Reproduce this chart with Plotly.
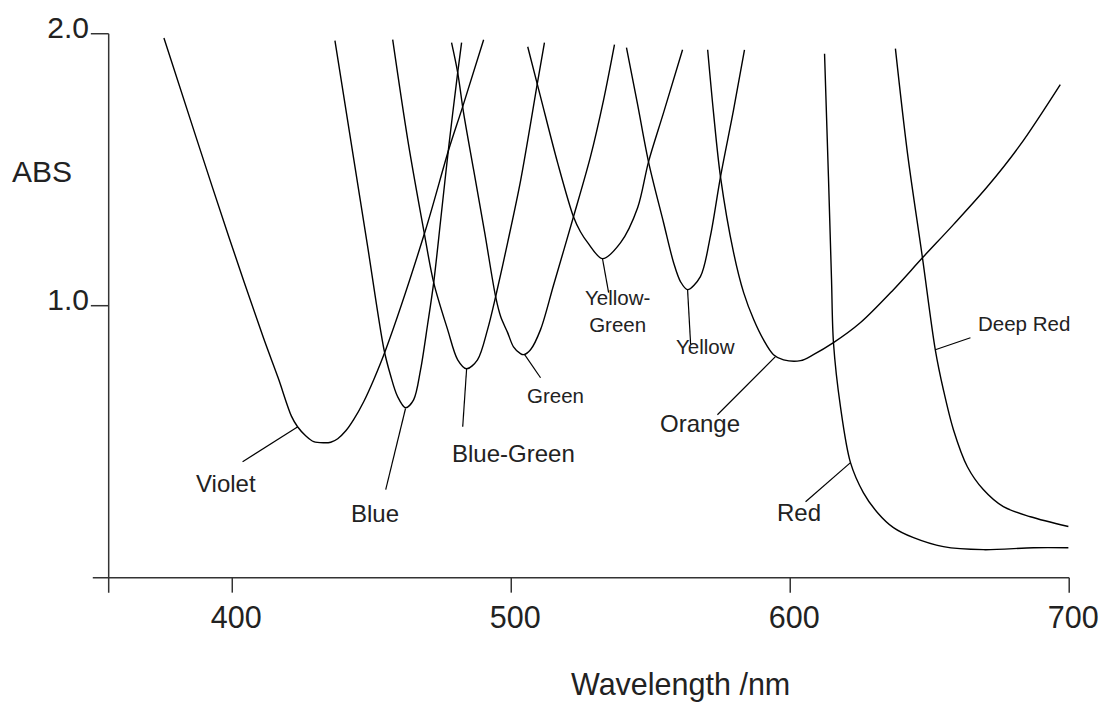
import plotly.graph_objects as go

# ---------------- data ----------------
X_TICKS = [400, 500, 600, 700]
X_TICK_TEXT = ["400", "500", "600", "700"]
Y_TICKS = [1.0, 2.0]
Y_TICK_TEXT = ["1.0", "2.0"]

VIOLET_NM = [375.5, 387.1, 398.9, 411.2, 416.5, 421.2, 423.4, 426.3, 429.2, 432.8, 435.3, 437.8, 440.7, 443.5, 447.1, 450.7, 455.0, 469.3, 477.6, 482.6, 490.1]
VIOLET_ABS = [1.984, 1.617, 1.249, 0.881, 0.733, 0.594, 0.555, 0.522, 0.500, 0.496, 0.498, 0.511, 0.540, 0.581, 0.647, 0.728, 0.838, 1.279, 1.574, 1.732, 1.978]

BLUE_NM = [436.8, 443.5, 448.5, 454.4, 456.7, 459.2, 462.1, 465.0, 467.5, 470.0, 472.2, 474.7, 477.6, 480.8, 482.2]
BLUE_ABS = [1.975, 1.542, 1.219, 0.838, 0.745, 0.667, 0.625, 0.654, 0.765, 0.930, 1.085, 1.315, 1.585, 1.857, 1.967]

BLUEGREEN_NM = [457.5, 462.9, 468.6, 472.2, 477.2, 480.8, 484.0, 487.9, 491.5, 494.4, 498.7, 503.4, 509.4, 511.9]
BLUEGREEN_ABS = [1.978, 1.610, 1.279, 1.085, 0.912, 0.801, 0.768, 0.801, 0.912, 1.033, 1.232, 1.463, 1.820, 1.967]

GREEN_NM = [478.6, 480.8, 482.9, 486.5, 490.5, 494.4, 496.2, 498.7, 500.8, 503.3, 504.4, 506.9, 510.5, 515.2, 522.3, 528.4, 533.1, 537.0]
GREEN_ABS = [1.967, 1.857, 1.710, 1.500, 1.268, 1.033, 0.960, 0.901, 0.849, 0.824, 0.820, 0.838, 0.912, 1.077, 1.327, 1.548, 1.757, 1.960]

YELLOWGREEN_NM = [505.9, 510.5, 516.6, 522.3, 524.8, 527.4, 532.7, 539.2, 545.3, 549.2, 554.6, 561.4]
YELLOWGREEN_ABS = [1.952, 1.768, 1.526, 1.327, 1.272, 1.232, 1.173, 1.232, 1.360, 1.529, 1.710, 1.941]

YELLOW_NM = [541.3, 545.3, 549.2, 554.6, 558.2, 560.7, 563.2, 567.8, 571.4, 575.0, 579.7, 583.6]
YELLOW_ABS = [1.949, 1.739, 1.529, 1.305, 1.158, 1.088, 1.059, 1.107, 1.257, 1.474, 1.721, 1.941]

ORANGE_NM = [570.4, 572.5, 575.0, 579.7, 583.3, 586.9, 590.4, 594.0, 597.6, 603.7, 608.3, 615.5, 625.2, 637.0, 647.4, 658.5, 670.7, 682.5, 696.8]
ORANGE_ABS = [1.941, 1.710, 1.474, 1.195, 1.048, 0.949, 0.875, 0.820, 0.801, 0.798, 0.820, 0.864, 0.938, 1.059, 1.176, 1.298, 1.438, 1.592, 1.813]

RED_NM = [612.3, 613.7, 614.8, 615.5, 618.0, 621.6, 626.2, 631.3, 637.0, 644.2, 654.9, 669.2, 687.2, 699.7]
RED_ABS = [1.926, 1.474, 1.096, 0.864, 0.629, 0.423, 0.313, 0.239, 0.184, 0.147, 0.114, 0.103, 0.110, 0.110]

DEEPRED_NM = [637.7, 642.0, 647.4, 652.0, 654.9, 658.5, 663.5, 669.2, 676.4, 686.1, 699.7]
DEEPRED_ABS = [1.945, 1.563, 1.176, 0.838, 0.691, 0.544, 0.408, 0.324, 0.261, 0.224, 0.188]

SERIES_NAMES = ["Violet", "Blue", "Blue-Green", "Green", "Yellow-Green",
                "Yellow", "Orange", "Red", "Deep Red"]
SERIES_X = [VIOLET_NM, BLUE_NM, BLUEGREEN_NM, GREEN_NM, YELLOWGREEN_NM,
            YELLOW_NM, ORANGE_NM, RED_NM, DEEPRED_NM]
SERIES_Y = [VIOLET_ABS, BLUE_ABS, BLUEGREEN_ABS, GREEN_ABS, YELLOWGREEN_ABS,
            YELLOW_ABS, ORANGE_ABS, RED_ABS, DEEPRED_ABS]

LABEL_TEXT = ["Violet", "Blue", "Blue-Green", "Green", "Yellow-<br>Green",
              "Yellow", "Orange", "Red", "Deep Red"]

# ---------------- layout (positions / styles) ----------------
# label centre (x, y), font size, leader line (x0, y0, x1, y1) in data units
LABEL_POS = [
    (397.7, 0.346, 24, (423.5, 0.555, 403.7, 0.426)),
    (451.0, 0.235, 24, (462.1, 0.622, 455.0, 0.324)),
    (500.8, 0.456, 24, (484.0, 0.768, 482.6, 0.555)),
    (515.9, 0.669, 20.5, (504.8, 0.820, 510.5, 0.735)),
    (538.1, 0.982, 20.5, (532.7, 1.173, 534.9, 1.048)),
    (569.6, 0.849, 20.5, (563.2, 1.059, 564.3, 0.857)),
    (567.8, 0.566, 24, (594.7, 0.8125, 573.9, 0.599)),
    (603.3, 0.239, 24, (621.6, 0.423, 605.5, 0.279)),
    (683.9, 0.934, 20.5, (652.0, 0.838, 664.6, 0.882)),
]

FONT = "Liberation Sans, Arial, Helvetica, sans-serif"
TEXT_COLOR = "#222222"
LINE_COLOR = "#000000"
AXIS_COLOR = "#333333"

X_RANGE = [349, 701]
Y_RANGE = [-0.06, 2.01]
Y_AXIS_X = 355.7
X_AXIS_START = 350
TICK_BOTTOM = -0.055
YTICK_LEFT = 349.3

# the page body margin is removed after load, so figure pixels = page pixels
FIG_W, FIG_H = 1104, 702
# plot area in page pixels
PL, PR, PT, PB = 90, 1072, 31, 594

fig = go.Figure()

for name, xs, ys in zip(SERIES_NAMES, SERIES_X, SERIES_Y):
    fig.add_trace(go.Scatter(
        x=xs, y=ys, mode="lines", name=name,
        line=dict(color=LINE_COLOR, width=1.4, shape="spline", smoothing=0.9),
        hoverinfo="x+y+name", showlegend=False,
    ))

shapes = []
axis_line = dict(color=AXIS_COLOR, width=1.5)
shapes.append(dict(type="line", xref="x", yref="y", x0=X_AXIS_START, x1=X_TICKS[-1],
                   y0=0, y1=0, line=axis_line))
shapes.append(dict(type="line", xref="x", yref="y", x0=Y_AXIS_X, x1=Y_AXIS_X,
                   y0=TICK_BOTTOM, y1=Y_TICKS[-1], line=axis_line))
for t in X_TICKS:
    shapes.append(dict(type="line", xref="x", yref="y", x0=t, x1=t,
                       y0=0, y1=TICK_BOTTOM, line=axis_line))
for t in Y_TICKS:
    shapes.append(dict(type="line", xref="x", yref="y", x0=YTICK_LEFT, x1=Y_AXIS_X,
                       y0=t, y1=t, line=axis_line))

annotations = []
for text, (lx, ly, fs, (x0, y0, x1, y1)) in zip(LABEL_TEXT, LABEL_POS):
    shapes.append(dict(type="line", xref="x", yref="y", x0=x0, y0=y0, x1=x1, y1=y1,
                       line=dict(color=LINE_COLOR, width=1.2)))
    annotations.append(dict(x=lx, y=ly, xref="x", yref="y", text=text, showarrow=False,
                            xanchor="center", yanchor="middle",
                            font=dict(family=FONT, size=fs, color=TEXT_COLOR)))


def px_to_paper(px, py):
    return (px - PL) / (PR - PL), (PB - py) / (PB - PT)


ax, ay = px_to_paper(42, 171)
annotations.append(dict(x=ax, y=ay, xref="paper", yref="paper", text="ABS",
                        showarrow=False, xanchor="center", yanchor="middle",
                        font=dict(family=FONT, size=30, color=TEXT_COLOR)))
tx, ty = px_to_paper(680, 684)
annotations.append(dict(x=tx, y=ty, xref="paper", yref="paper", text="Wavelength /nm",
                        showarrow=False, xanchor="center", yanchor="middle",
                        font=dict(family=FONT, size=30.5, color=TEXT_COLOR)))

fig.update_layout(
    template="none",
    width=FIG_W, height=FIG_H,
    margin=dict(l=PL, r=FIG_W - PR, t=PT, b=FIG_H - PB, pad=0, autoexpand=False),
    paper_bgcolor="white", plot_bgcolor="white",
    font=dict(family=FONT, size=30, color=TEXT_COLOR),
    xaxis=dict(range=X_RANGE, tickvals=X_TICKS, ticktext=X_TICK_TEXT, ticks="",
               showline=False, showgrid=False, zeroline=False, automargin=False,
               tickfont=dict(family=FONT, size=30.5, color=TEXT_COLOR),
               ticklabelstandoff=2, ticklabelshift=4, fixedrange=True),
    yaxis=dict(range=Y_RANGE, tickvals=Y_TICKS, ticktext=Y_TICK_TEXT, ticks="",
               showline=False, showgrid=False, zeroline=False, automargin=False,
               tickfont=dict(family=FONT, size=30, color=TEXT_COLOR),
               ticklabelstandoff=0, ticklabelshift=-6, fixedrange=True),
    shapes=shapes,
    annotations=annotations,
    showlegend=False,
)

fig.write_html(
    "out.html",
    config={"displayModeBar": False, "staticPlot": True},
    post_script="document.body.style.margin='0';document.body.style.overflow='hidden';",
)
